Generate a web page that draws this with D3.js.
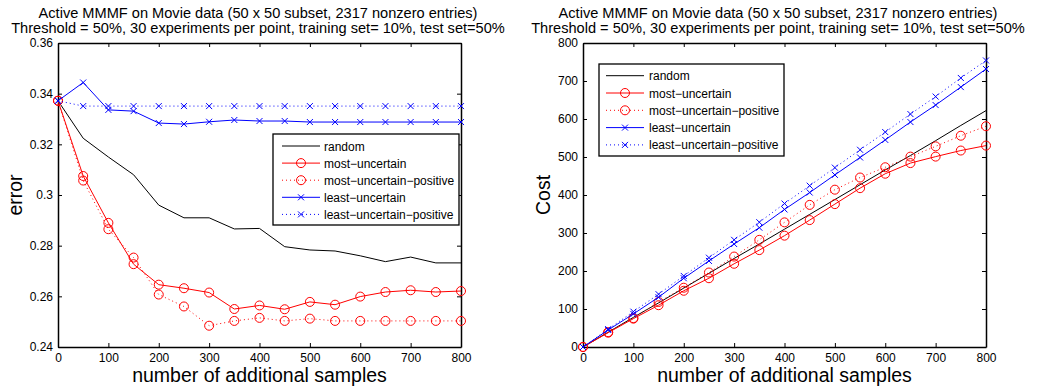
<!DOCTYPE html>
<html>
<head>
<meta charset="utf-8">
<script src="https://cdn.jsdelivr.net/npm/d3@7"></script>
<style>
  body { margin: 0; background: #fff; }
  svg { font-family: "Liberation Sans", Arial, sans-serif; }
</style>
</head>
<body>
<svg id="chart" width="1040" height="389"></svg>
<script>
// x positions shared by both panels
const samples = [0, 50, 100, 150, 200, 250, 300, 350, 400, 450, 500, 550, 600, 650, 700, 750, 800];
const xTicks = [0, 100, 200, 300, 400, 500, 600, 700, 800];

const seriesNames = ['random', 'most\u2212uncertain', 'most\u2212uncertain\u2212positive', 'least\u2212uncertain', 'least\u2212uncertain\u2212positive'];

// Left panel: error
const errRandom = [0.3372, 0.3224, 0.315, 0.308, 0.296, 0.291, 0.291, 0.2866, 0.2868, 0.2796, 0.2783, 0.2779, 0.276, 0.2737, 0.2755, 0.2732, 0.2732];
const errMost = [0.3372, 0.3075, 0.289, 0.2727, 0.2646, 0.2632, 0.2615, 0.255, 0.2564, 0.2549, 0.2578, 0.2567, 0.2599, 0.2617, 0.2624, 0.2617, 0.2621];
const errMostPos = [0.3372, 0.3057, 0.2865, 0.2753, 0.2607, 0.256, 0.2484, 0.2503, 0.2515, 0.2503, 0.2512, 0.2503, 0.2503, 0.2503, 0.2503, 0.2503, 0.2503];
const errLeast = [0.3372, 0.3444, 0.3336, 0.3331, 0.3284, 0.328, 0.3289, 0.3296, 0.3292, 0.3292, 0.3288, 0.3288, 0.3288, 0.3288, 0.3288, 0.3288, 0.3288];
const errLeastPos = [0.3372, 0.3351, 0.3351, 0.3351, 0.3351, 0.3351, 0.3351, 0.3351, 0.3351, 0.3351, 0.3351, 0.3351, 0.3351, 0.3351, 0.3351, 0.3351, 0.3351];
const errTicks = [0.24, 0.26, 0.28, 0.3, 0.32, 0.34, 0.36];

// Right panel: cost
const costRandom = [0, 39, 78, 116, 155, 194, 233, 271, 310, 349, 388, 427, 466, 504, 543, 583, 622];
const costMost = [0, 37.7, 74.6, 110, 148, 181, 219, 255, 293, 334, 376, 418, 456, 484, 501, 517, 530];
const costMostPos = [0, 39, 76, 118.5, 156, 196, 238, 282, 328, 374, 414, 446, 473, 501, 528, 556, 581];
const costLeast = [0, 44.8, 87, 131, 181, 226.5, 271, 314, 362, 406.5, 453, 498.7, 545, 592, 636.7, 684, 731.5];
const costLeastPos = [0, 47, 93, 139, 187, 235, 282, 328.4, 377.5, 424.5, 472, 519, 565.6, 613, 659, 708, 754];
const costTicks = [0, 100, 200, 300, 400, 500, 600, 700, 800];

const titleLine1 = 'Active MMMF on Movie data (50 x 50 subset, 2317 nonzero entries)';
const titleLine2 = 'Threshold = 50%, 30 experiments per point, training set= 10%, test set=50%';

// style per series: colour, dotted, marker
const styles = [
  { color: '#000', dotted: false, marker: 'none' },
  { color: '#f00', dotted: false, marker: 'circle' },
  { color: '#f00', dotted: true, marker: 'circle' },
  { color: '#00f', dotted: false, marker: 'x' },
  { color: '#00f', dotted: true, marker: 'x' }
];

const svg = d3.select('#chart');

function drawPanel(opt) {
  const x = d3.scaleLinear().domain([0, 800]).range([opt.left, opt.right]);
  const y = d3.scaleLinear().domain(opt.yDomain).range([opt.bottom, opt.top]);
  const g = svg.append('g');

  // titre
  g.append('text').attr('x', opt.titleX).attr('y', 17.5).attr('text-anchor', 'middle')
    .style('font-size', '14.6px').text(titleLine1);
  g.append('text').attr('x', opt.titleX).attr('y', 33).attr('text-anchor', 'middle')
    .style('font-size', '14.6px').text(titleLine2);

  // axes (ticks vers l'intérieur)
  const axB = g.append('g').attr('transform', `translate(0,${opt.bottom})`)
    .call(d3.axisBottom(x).tickValues(xTicks).tickSizeInner(-4).tickSizeOuter(0).tickPadding(6));
  const axT = g.append('g').attr('transform', `translate(0,${opt.top})`)
    .call(d3.axisTop(x).tickValues(xTicks).tickSizeInner(-4).tickSizeOuter(0).tickFormat(''));
  const axL = g.append('g').attr('transform', `translate(${opt.left},0)`)
    .call(d3.axisLeft(y).tickValues(opt.yTicks).tickSizeInner(-4).tickSizeOuter(0).tickPadding(5).tickFormat(opt.yFormat));
  const axR = g.append('g').attr('transform', `translate(${opt.right},0)`)
    .call(d3.axisRight(y).tickValues(opt.yTicks).tickSizeInner(-4).tickSizeOuter(0).tickFormat(''));

  [axB, axT, axL, axR].forEach(a => {
    a.selectAll('path.domain').attr('stroke', '#000').attr('stroke-width', 1.5);
    a.selectAll('line').attr('stroke', '#000');
    a.selectAll('text').style('font-size', '12px').attr('fill', '#000').style('font-family', 'Liberation Sans, Arial, sans-serif');
  });

  // libellés des axes
  g.append('text').attr('x', (opt.left + opt.right) / 2).attr('y', 382).attr('text-anchor', 'middle')
    .style('font-size', '19.5px').text('number of additional samples');
  g.append('text').attr('transform', `translate(${opt.yLabelX},${(opt.top + opt.bottom) / 2}) rotate(-90)`)
    .attr('text-anchor', 'middle').style('font-size', '19.5px').text(opt.yLabel);

  const line = d3.line().x((d, i) => x(samples[i])).y(d => y(d));

  opt.series.forEach((vals, k) => {
    const st = styles[k];
    g.append('path').datum(vals).attr('d', line)
      .attr('fill', 'none').attr('stroke', st.color).attr('stroke-width', 1)
      .attr('stroke-dasharray', st.dotted ? '1,3' : null);
    drawMarkers(g, vals.map((v, i) => [x(samples[i]), y(v)]), st);
  });

  drawLegend(g, opt.legend);
}

function drawMarkers(g, pts, st) {
  if (st.marker === 'circle') {
    g.selectAll(null).data(pts).enter().append('circle')
      .attr('cx', d => d[0]).attr('cy', d => d[1]).attr('r', 4.5)
      .attr('fill', 'none').attr('stroke', st.color).attr('stroke-width', 1);
  } else if (st.marker === 'x') {
    const s = 3;
    g.selectAll(null).data(pts).enter().append('path')
      .attr('d', d => `M${d[0] - s},${d[1] - s}L${d[0] + s},${d[1] + s}M${d[0] - s},${d[1] + s}L${d[0] + s},${d[1] - s}`)
      .attr('stroke', st.color).attr('stroke-width', 1).attr('fill', 'none');
  }
}

function drawLegend(g, L) {
  g.append('rect').attr('x', L.x0).attr('y', L.y0).attr('width', L.x1 - L.x0).attr('height', L.y1 - L.y0)
    .attr('fill', '#fff').attr('stroke', '#000').attr('stroke-width', 1.3);
  seriesNames.forEach((name, k) => {
    const st = styles[k];
    const yy = L.rowY + k * L.rowH;
    g.append('line').attr('x1', L.lineX0).attr('x2', L.lineX1).attr('y1', yy).attr('y2', yy)
      .attr('stroke', st.color).attr('stroke-width', 1)
      .attr('stroke-dasharray', st.dotted ? '1,3' : null);
    drawMarkers(g, [[(L.lineX0 + L.lineX1) / 2, yy]], st);
    g.append('text').attr('x', L.textX).attr('y', yy + 4.5).style('font-size', '12px').text(name);
  });
}

drawPanel({
  left: 58, right: 461, top: 43, bottom: 347,
  titleX: 258,
  yDomain: [0.24, 0.36], yTicks: errTicks, yFormat: d3.format('.2~f'),
  yLabel: 'error', yLabelX: 22,
  series: [errRandom, errMost, errMostPos, errLeast, errLeastPos],
  legend: { x0: 273, x1: 459, y0: 134, y1: 225, rowY: 146, rowH: 17.1, lineX0: 282, lineX1: 320, textX: 324 }
});

drawPanel({
  left: 583, right: 986, top: 43, bottom: 347,
  titleX: 778,
  yDomain: [0, 800], yTicks: costTicks, yFormat: d3.format('d'),
  yLabel: 'Cost', yLabelX: 550,
  series: [costRandom, costMost, costMostPos, costLeast, costLeastPos],
  legend: { x0: 599, x1: 784, y0: 64, y1: 156, rowY: 75.7, rowH: 17.3, lineX0: 606, lineX1: 644, textX: 649 }
});
</script>
</body>
</html>
